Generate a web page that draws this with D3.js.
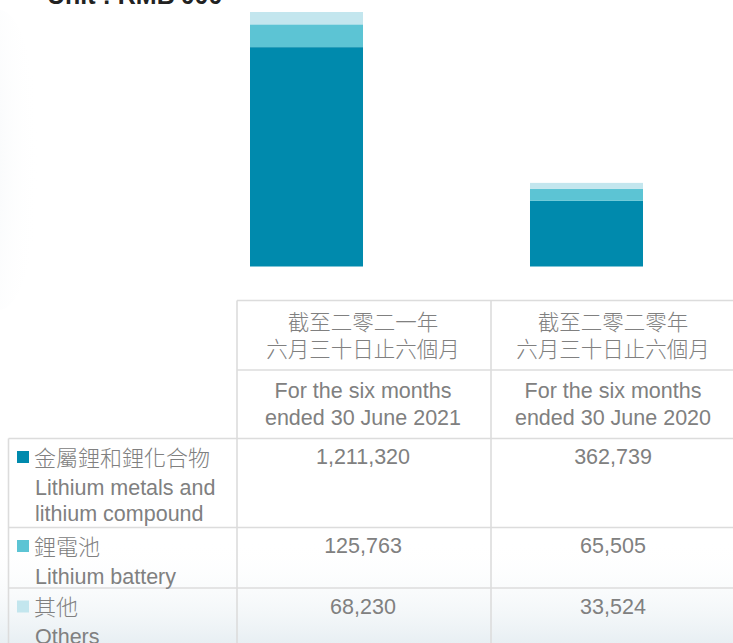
<!DOCTYPE html>
<html><head><meta charset="utf-8">
<script src="https://cdn.jsdelivr.net/npm/d3@7"></script>
<style>html,body{margin:0;padding:0;background:#fff;}svg{display:block;}</style>
</head><body>
<svg id="chart" width="733" height="643"></svg>
<script>
// ---- data ----
const periods = ["2021", "2020"];
const periodZh = [["截至二零二一年", "六月三十日止六個月"], ["截至二零二零年", "六月三十日止六個月"]];
const periodEn = [["For the six months", "ended 30 June 2021"], ["For the six months", "ended 30 June 2020"]];
const seriesKeys = ["metals", "battery", "others"];
const seriesZh = ["金屬鋰和鋰化合物", "鋰電池", "其他"];
const seriesEn = [["Lithium metals and", "lithium compound"], ["Lithium battery"], ["Others"]];
const metals = [1211320, 362739];
const battery = [125763, 65505];
const others = [68230, 33524];
const unitLabel = "Unit : RMB'000";

const colors = ["#008aad", "#5cc4d4", "#c3e6ee"];
const svg = d3.select("#chart");

// background subtle gradients
const defs = svg.append("defs");
const gb = defs.append("linearGradient").attr("id", "gb").attr("x1", 0).attr("y1", 0).attr("x2", 0).attr("y2", 1);
gb.append("stop").attr("offset", "0").attr("stop-color", "#ffffff").attr("stop-opacity", 0);
gb.append("stop").attr("offset", "1").attr("stop-color", "#e8eff3").attr("stop-opacity", 1);
const gl = defs.append("radialGradient").attr("id", "gl").attr("cx", 0).attr("cy", 0.5).attr("r", 1);
gl.append("stop").attr("offset", "0").attr("stop-color", "#eaeff3").attr("stop-opacity", 1);
gl.append("stop").attr("offset", "1").attr("stop-color", "#ffffff").attr("stop-opacity", 0);
svg.append("rect").attr("x", 0).attr("y", 0).attr("width", 733).attr("height", 643).attr("fill", "#fff");
svg.append("ellipse").attr("cx", 0).attr("cy", 160).attr("rx", 40).attr("ry", 150).attr("fill", "url(#gl)");
svg.append("rect").attr("x", 0).attr("y", 540).attr("width", 733).attr("height", 103).attr("fill", "url(#gb)");

// unit label (cut at top)
svg.append("text").attr("x", 47).attr("y", 4)
  .attr("font-family", "Liberation Sans, Arial, sans-serif").attr("font-weight", "bold")
  .attr("font-size", 25).attr("fill", "#222").text(unitLabel);

// ---- bars ----
const rows = periods.map((p, i) => ({period: p, metals: metals[i], battery: battery[i], others: others[i]}));
const stack = d3.stack().keys(seriesKeys)(rows);
const x = d3.scaleBand().domain(periods).range([250, 643]).paddingInner(0.5964).paddingOuter(0);
const y = d3.scaleLinear().domain([0, d3.max(rows, r => r.metals + r.battery + r.others)]).range([266.5, 12]);

svg.append("g").selectAll("g").data(stack).join("g")
  .attr("fill", (d, i) => colors[i])
  .selectAll("rect").data(d => d).join("rect")
  .attr("x", d => x(d.data.period))
  .attr("width", x.bandwidth())
  .attr("y", d => y(d[1]))
  .attr("height", d => y(d[0]) - y(d[1]));

// ---- table ----
const colX = [237, 491];
const colCenters = [363, 613];
const hLines = [300.5, 370, 438.5, 527.5, 588];
const lineColor = "#dcdcdc";
const tg = svg.append("g").attr("stroke", lineColor).attr("stroke-width", 1.6);
tg.append("line").attr("x1", colX[0]).attr("x2", 733).attr("y1", hLines[0]).attr("y2", hLines[0]);
tg.append("line").attr("x1", colX[0]).attr("x2", 733).attr("y1", hLines[1]).attr("y2", hLines[1]);
[2, 3, 4].forEach(k => tg.append("line").attr("x1", 8.5).attr("x2", 733).attr("y1", hLines[k]).attr("y2", hLines[k]));
tg.append("line").attr("x1", 8.5).attr("x2", 8.5).attr("y1", hLines[2]).attr("y2", 643);
tg.append("line").attr("x1", colX[0]).attr("x2", colX[0]).attr("y1", hLines[0]).attr("y2", 643);
tg.append("line").attr("x1", colX[1]).attr("x2", colX[1]).attr("y1", hLines[0]).attr("y2", 643);

const textColor = "#808080";
const latin = "Liberation Sans, Arial, sans-serif";
const cjk = "Noto Sans CJK TC, Noto Sans CJK SC, sans-serif";

// header
periods.forEach((p, i) => {
  const cx = colCenters[i];
  periodZh[i].forEach((t, j) => svg.append("text").attr("x", cx).attr("y", 330 + j * 27)
    .attr("text-anchor", "middle").attr("font-family", cjk).attr("font-weight", 300)
    .attr("font-size", 21.5).attr("fill", textColor).text(t));
  periodEn[i].forEach((t, j) => svg.append("text").attr("x", cx).attr("y", 398 + j * 27)
    .attr("text-anchor", "middle").attr("font-family", latin)
    .attr("font-size", 21.5).attr("fill", textColor).text(t));
});

// rows
const rowTops = [hLines[2], hLines[3], hLines[4]];
const valueSeries = [metals, battery, others];
const fmt = d3.format(",");
seriesKeys.forEach((k, r) => {
  const top = rowTops[r];
  svg.append("rect").attr("x", 17).attr("y", top + 12.5).attr("width", 12).attr("height", 12).attr("fill", colors[r]);
  svg.append("text").attr("x", 34).attr("y", top + 27)
    .attr("font-family", cjk).attr("font-weight", 300).attr("font-size", 22)
    .attr("fill", textColor).text(seriesZh[r]);
  seriesEn[r].forEach((t, j) => svg.append("text").attr("x", 35).attr("y", top + 56 + j * 26)
    .attr("font-family", latin).attr("font-size", 21.5).attr("fill", textColor).text(t));
  valueSeries[r].forEach((v, i) => svg.append("text").attr("x", colCenters[i]).attr("y", top + 25.5)
    .attr("text-anchor", "middle").attr("font-family", latin).attr("font-size", 21.5)
    .attr("fill", textColor).text(fmt(v)));
});
</script>
</body></html>
